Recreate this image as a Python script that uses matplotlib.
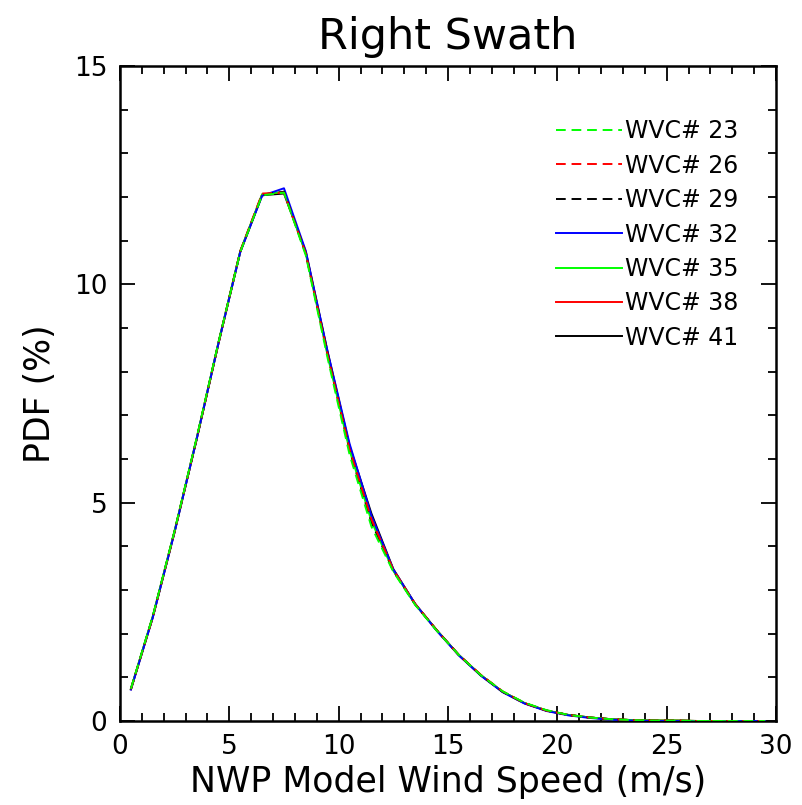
import matplotlib
matplotlib.use("Agg")
import matplotlib.pyplot as plt
from matplotlib.ticker import MultipleLocator

# wind speed bin centres (m/s)
wind_speed = [0.5, 1.5, 2.5, 3.5, 4.5, 5.5, 6.5, 7.5, 8.5, 9.5,
              10.5, 11.5, 12.5, 13.5, 14.5, 15.5, 16.5, 17.5, 18.5, 19.5,
              20.5, 21.5, 22.5, 23.5, 24.5, 25.5, 26.5, 27.5, 28.5, 29.5]

# PDF (%) per wind vector cell
wvc23 = [0.74, 2.40, 4.36, 6.47, 8.66, 10.74, 12.04, 12.10, 10.66, 8.30,
         6.10, 4.45, 3.42, 2.66, 2.06, 1.51, 1.05, 0.68, 0.42, 0.25,
         0.14, 0.08, 0.04, 0.02, 0.01, 0.01, 0.0, 0.0, 0.0, 0.0]
wvc26 = [0.73, 2.38, 4.34, 6.45, 8.64, 10.76, 12.08, 12.10, 10.70, 8.38,
         6.22, 4.62, 3.46, 2.68, 2.07, 1.51, 1.06, 0.68, 0.41, 0.24,
         0.14, 0.08, 0.04, 0.02, 0.01, 0.01, 0.0, 0.0, 0.0, 0.0]
wvc29 = [0.73, 2.39, 4.35, 6.45, 8.65, 10.75, 12.05, 12.12, 10.70, 8.40,
         6.20, 4.55, 3.44, 2.67, 2.07, 1.51, 1.05, 0.67, 0.41, 0.24,
         0.14, 0.08, 0.04, 0.02, 0.01, 0.01, 0.0, 0.0, 0.0, 0.0]
wvc32 = [0.72, 2.37, 4.33, 6.44, 8.64, 10.74, 12.03, 12.20, 10.76, 8.45,
         6.35, 4.70, 3.47, 2.68, 2.06, 1.50, 1.04, 0.66, 0.40, 0.23,
         0.13, 0.07, 0.03, 0.01, 0.0, 0.0, -0.02, -0.02, 0.0, 0.0]
wvc35 = [0.74, 2.40, 4.36, 6.46, 8.66, 10.76, 12.06, 12.12, 10.70, 8.36,
         6.20, 4.58, 3.44, 2.67, 2.07, 1.51, 1.05, 0.67, 0.41, 0.24,
         0.14, 0.08, 0.04, 0.02, 0.01, 0.01, 0.0, 0.0, 0.0, 0.0]
wvc38 = [0.73, 2.38, 4.35, 6.45, 8.65, 10.75, 12.06, 12.11, 10.72, 8.40,
         6.25, 4.66, 3.46, 2.68, 2.07, 1.51, 1.05, 0.67, 0.41, 0.24,
         0.14, 0.08, 0.04, 0.02, 0.01, 0.01, 0.0, 0.0, 0.0, 0.0]
wvc41 = [0.73, 2.38, 4.34, 6.44, 8.64, 10.74, 12.04, 12.08, 10.74, 8.44,
         6.30, 4.75, 3.48, 2.68, 2.07, 1.51, 1.05, 0.67, 0.41, 0.24,
         0.14, 0.08, 0.04, 0.02, 0.01, 0.01, 0.0, 0.0, 0.0, 0.0]

series = [
    ("WVC# 23", wvc23, "#00ff00", "--"),
    ("WVC# 26", wvc26, "#ff0000", "--"),
    ("WVC# 29", wvc29, "#000000", "--"),
    ("WVC# 32", wvc32, "#0000ff", "-"),
    ("WVC# 35", wvc35, "#00ff00", "-"),
    ("WVC# 38", wvc38, "#ff0000", "-"),
    ("WVC# 41", wvc41, "#000000", "-"),
]

plt.rcParams['font.family'] = ['DejaVu Sans']

fig = plt.figure(figsize=(8.03, 8.05), dpi=100)
ax = fig.add_axes([0.1494, 0.1043, 0.817, 0.8137])

# later cells drawn first, so WVC# 23 ends up on top
n = len(series)
for i, (name, vals, color, ls) in enumerate(series):
    kw = dict(color=color, linewidth=1.4, label=name, zorder=2 + n - i)
    if ls == "--":
        kw['dashes'] = (5, 3)
    ax.plot(wind_speed, vals, **kw)

ax.set_xlim(0, 30)
ax.set_ylim(0, 15)
ax.xaxis.set_major_locator(MultipleLocator(5))
ax.xaxis.set_minor_locator(MultipleLocator(1))
ax.yaxis.set_major_locator(MultipleLocator(5))
ax.yaxis.set_minor_locator(MultipleLocator(1))
ax.tick_params(which='both', direction='in', top=True, right=True, width=1.3)
ax.tick_params(which='major', length=11, labelsize=19, pad=9)
ax.tick_params(which='minor', length=6)
for sp in ax.spines.values():
    sp.set_linewidth(1.8)

ax.set_xlabel('NWP Model Wind Speed (m/s)', fontsize=25, labelpad=4)
ax.set_ylabel('PDF (%)', fontsize=25, labelpad=12)
ax.set_title('Right Swath', fontsize=31, pad=12)

ax.legend(loc='upper left', bbox_to_anchor=(0.650, 0.933), frameon=False,
          fontsize=17, handlelength=2.8, handletextpad=0.15,
          labelspacing=0.44, borderaxespad=0)

fig.savefig('out.png', dpi=100)
